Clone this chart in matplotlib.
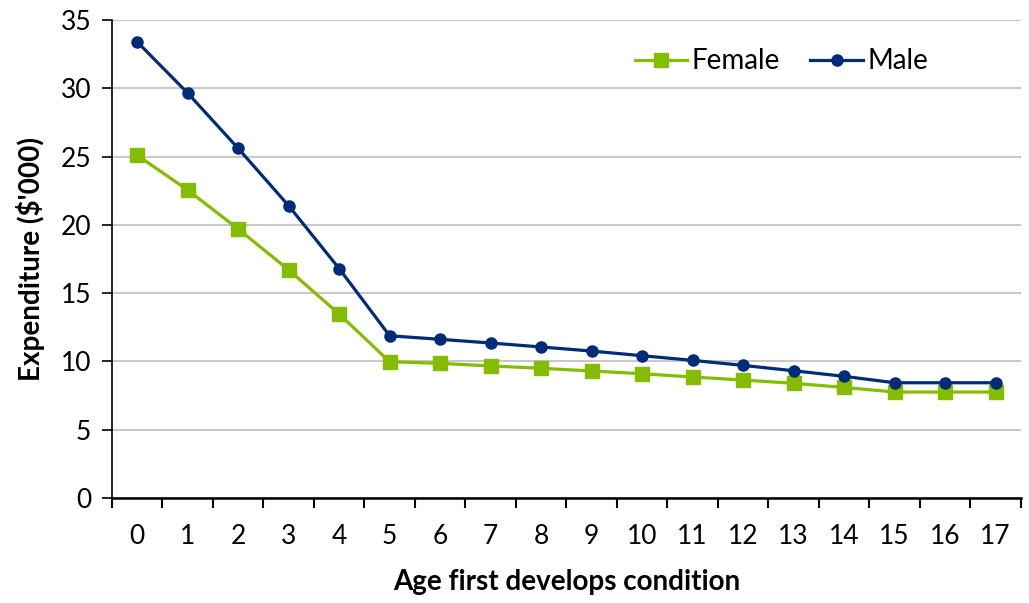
import matplotlib

matplotlib.use("Agg")
import matplotlib.pyplot as plt
import numpy as np

ages = list(range(18))
female = [25.1, 22.55, 19.7, 16.7, 13.47, 9.98, 9.86, 9.67, 9.5, 9.3,
          9.1, 8.86, 8.64, 8.4, 8.1, 7.76, 7.76, 7.76]
male = [33.4, 29.65, 25.6, 21.4, 16.8, 11.88, 11.62, 11.35, 11.06, 10.76,
        10.42, 10.08, 9.71, 9.32, 8.91, 8.44, 8.44, 8.44]

FEMALE_COLOR = "#84BD00"
MALE_COLOR = "#002B78"
FS = 19

plt.rcParams["font.family"] = ["Lato", "DejaVu Sans"]

fig = plt.figure(figsize=(10.29, 6.03), dpi=100)
ax = fig.add_axes([0.1088, 0.1741, 0.8832, 0.7927])

x = np.arange(len(ages))
ax.plot(x, female, color=FEMALE_COLOR, lw=2.3, marker="s", ms=10,
        label="Female", zorder=3)
ax.plot(x, male, color=MALE_COLOR, lw=2.3, marker="o", ms=8,
        label="Male", zorder=4)

ax.set_xlim(-0.5, len(ages) - 0.5)
ax.set_ylim(0, 35)
ax.set_yticks(np.arange(0, 36, 5))
ax.yaxis.grid(True, color="#C8C8C8", lw=1.5)
ax.set_axisbelow(True)

# category axis: ticks between categories, labels at centres
ax.set_xticks(np.arange(-0.5, len(ages), 1.0))
ax.set_xticklabels([])
ax.set_xticks(x, minor=True)
ax.set_xticklabels([str(a) for a in ages], minor=True)
ax.tick_params(axis="x", which="major", direction="out", length=7, width=1.5)
ax.tick_params(axis="x", which="minor", length=0, pad=19, labelsize=FS)
ax.tick_params(axis="y", direction="out", length=7, width=1.2, labelsize=FS, pad=8)

for side in ["top", "right"]:
    ax.spines[side].set_visible(False)
ax.spines["left"].set_linewidth(1.2)
ax.spines["bottom"].set_linewidth(1.8)

ax.set_xlabel("Age first develops condition", fontsize=20, fontweight="bold", labelpad=14)
ax.set_ylabel(r"Expenditure (\$'000)", fontsize=20, fontweight="bold", labelpad=11)

ax.legend(loc="center left", bbox_to_anchor=(0.575, 0.9135), ncol=2, frameon=False,
          fontsize=FS + 1, handlelength=1.9, columnspacing=1.1, handletextpad=0.15,
          borderaxespad=0, borderpad=0)

fig.savefig("out.png", dpi=100)
